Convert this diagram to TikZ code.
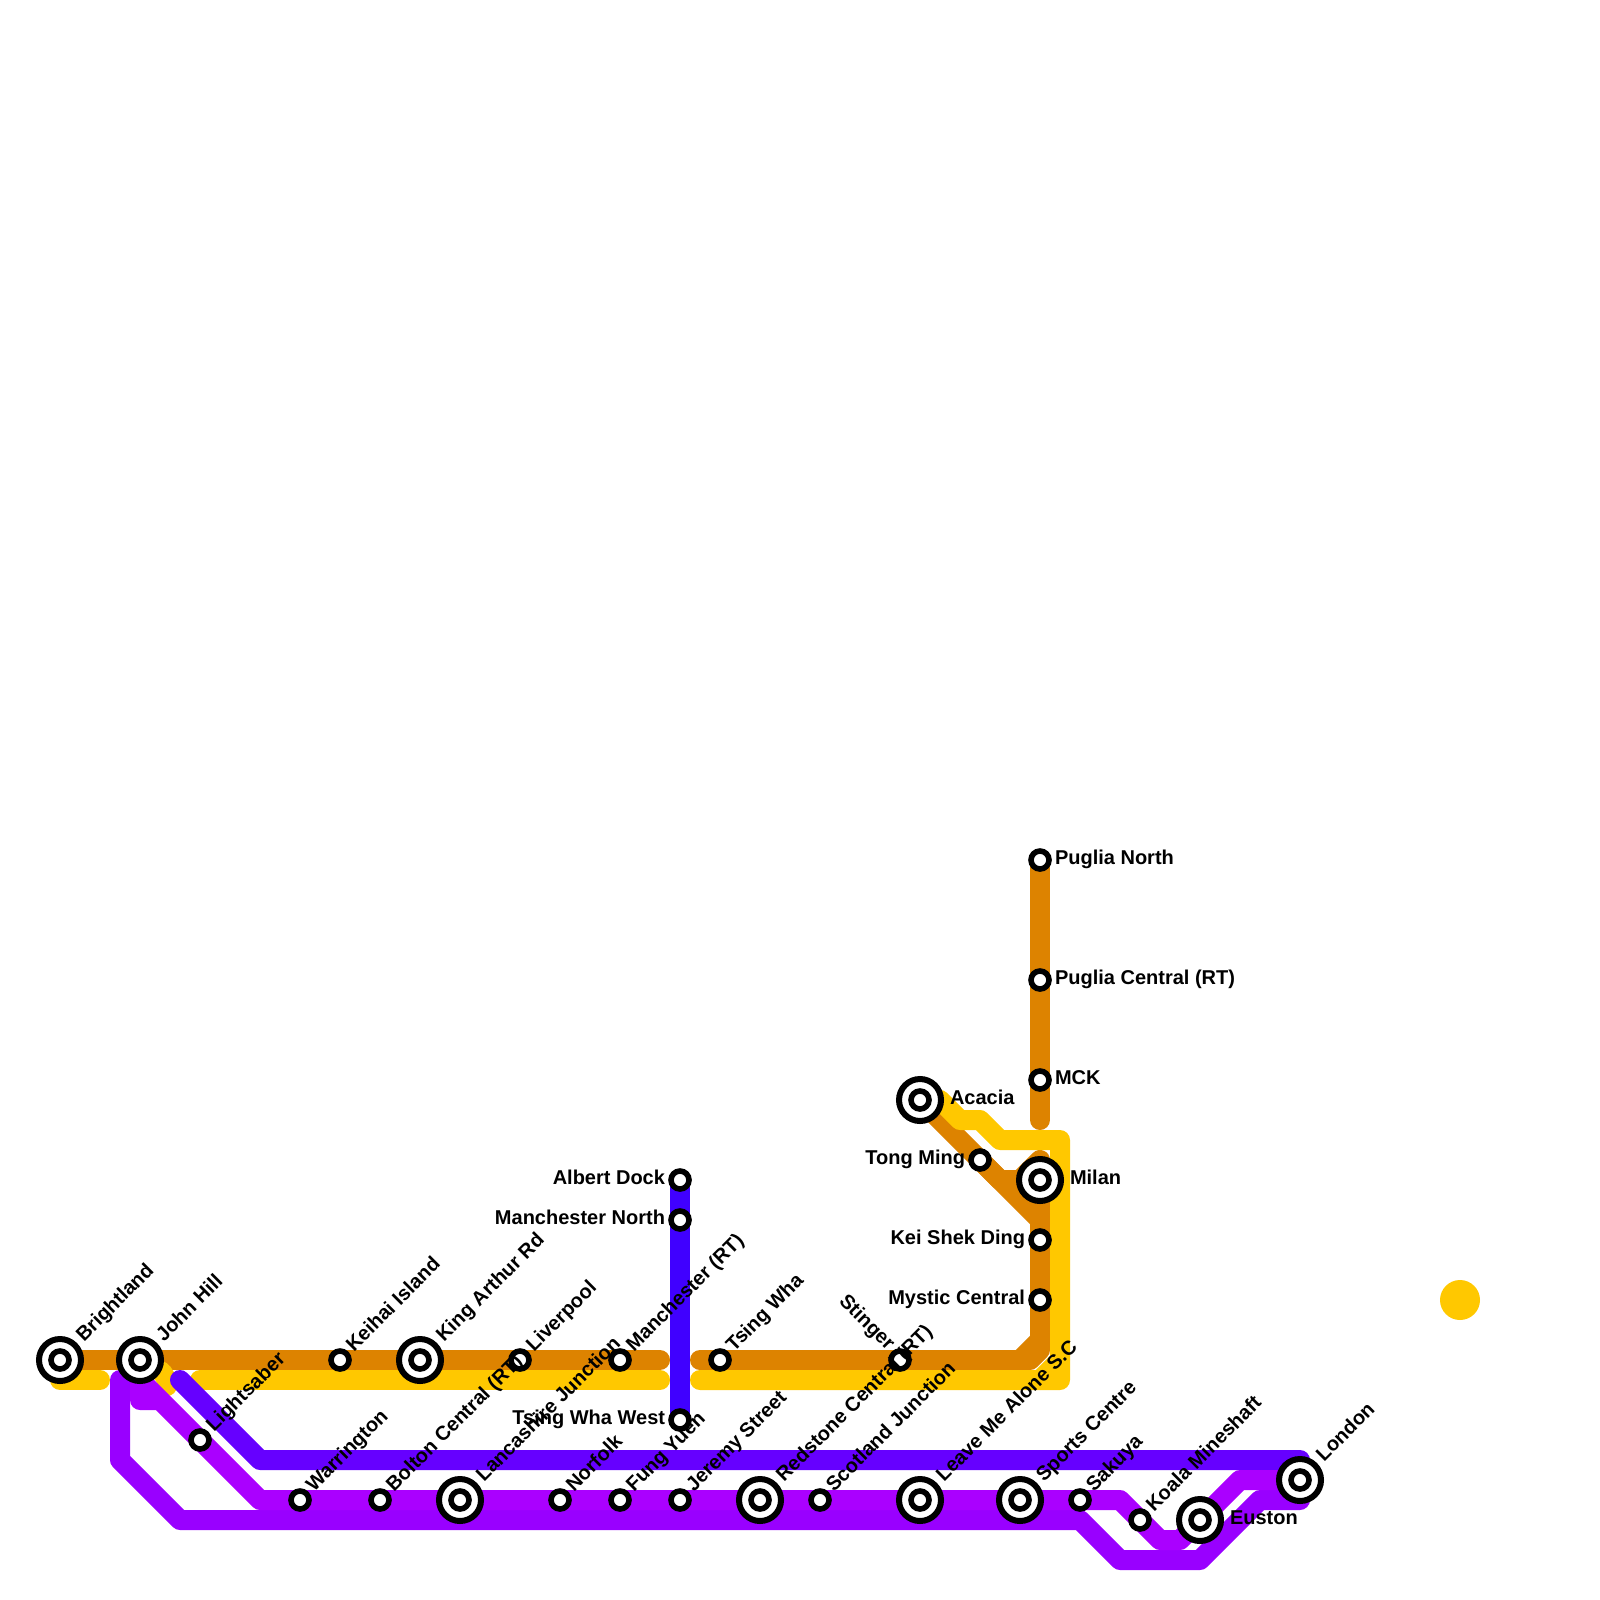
\documentclass[tikz,border=0pt]{standalone}
\usepackage{fontspec}
\setmainfont{Liberation Sans}
\usetikzlibrary{backgrounds}
\definecolor{cOrange}{HTML}{DD8300}
\definecolor{cYellow}{HTML}{FFC800}
\definecolor{cIndigo}{HTML}{6600FF}
\definecolor{cBlue}{HTML}{4000FF}
\definecolor{cMagenta}{HTML}{AA00FF}
\definecolor{cPurple}{HTML}{9900FF}
\tikzset{
  metro/.style={line width=20pt,line cap=round,line join=round},
  smallst/.style={circle,draw=black,fill=white,line width=5.6pt,minimum size=18pt,inner sep=0pt,outer sep=0pt},
  bigst/.style={circle,draw=black,fill=white,line width=6pt,minimum size=42pt,inner sep=0pt,outer sep=0pt},
  lab/.style={font=\fontsize{20}{20}\selectfont\bfseries,inner sep=0pt,outer sep=0pt,text=black},
  ne/.style={lab,anchor=base west,rotate=45},
  nw/.style={lab,anchor=base east,rotate=-45},
  rt/.style={lab,anchor=base west},
  lf/.style={lab,anchor=base east},
}
\newcommand{\BigSt}[3]{\node[bigst] (#1) at (#2,#3) {}; \node[smallst] (#1i) at (#2,#3) {};}
\newcommand{\SmlSt}[3]{\node[smallst] (#1) at (#2,#3) {};}
\newcommand{\LabBig}[2]{\node[ne] (#1lab) at ([shift={(24,-17.5)}]#1.center) {#2};}
\newcommand{\LabSml}[2]{\node[ne] (#1lab) at ([shift={(14,-7.5)}]#1.center) {#2};}
\begin{document}
\begin{tikzpicture}[x=1pt,y=-1pt]
\useasboundingbox (0,0) rectangle (1600,1600);
\BigSt{brightland}{60}{1360}
\BigSt{johnhill}{140}{1360}
\SmlSt{keihai}{340}{1360}
\BigSt{kingarthur}{420}{1360}
\SmlSt{liverpool}{520}{1360}
\SmlSt{manchrt}{620}{1360}
\SmlSt{tsingwha}{720}{1360}
\SmlSt{stinger}{900}{1360}
\SmlSt{lightsaber}{200}{1440}
\SmlSt{warrington}{300}{1500}
\SmlSt{bolton}{380}{1500}
\BigSt{lancashire}{460}{1500}
\SmlSt{norfolk}{560}{1500}
\SmlSt{fungyuen}{620}{1500}
\SmlSt{jeremy}{680}{1500}
\BigSt{redstone}{760}{1500}
\SmlSt{scotland}{820}{1500}
\BigSt{leaveme}{920}{1500}
\BigSt{sports}{1020}{1500}
\SmlSt{sakuya}{1080}{1500}
\SmlSt{koala}{1140}{1520}
\BigSt{euston}{1200}{1520}
\BigSt{london}{1300}{1480}
\SmlSt{albert}{680}{1180}
\SmlSt{manchn}{680}{1220}
\SmlSt{tsingwest}{680}{1420}
\SmlSt{puglian}{1040}{860}
\SmlSt{pugliac}{1040}{980}
\SmlSt{mck}{1040}{1080}
\BigSt{acacia}{920}{1100}
\SmlSt{tongming}{980}{1160}
\BigSt{milan}{1040}{1180}
\SmlSt{keishek}{1040}{1240}
\SmlSt{mystic}{1040}{1300}
\node[circle,fill=cYellow,minimum size=40pt,inner sep=0pt] (dot) at (1460,1300) {};
\coordinate (oa) at (660,1360);
\coordinate (ob) at (700,1360);
\coordinate (oc) at (1040,1120);
\coordinate (ya) at (60,1380);
\coordinate (yb) at (100,1380);
\coordinate (yc) at (200,1380);
\coordinate (yd) at (660,1380);
\coordinate (ye) at (700,1380);
\coordinate (yf) at (167,1386);
\coordinate (ia) at (180,1380);
\coordinate (pa) at (120,1380);
\begin{pgfonlayer}{background}
\draw[metro,cOrange] (brightland.center) -- (oa);
\draw[metro,cOrange] (puglian.center) -- (oc);
\draw[metro,cOrange] (ob) -- (1020,1360) -- (1040,1340) -- (1040,1220) -- (acacia.center);
\draw[metro,cOrange] (1020,1360) -- (1030,1360) -- (1040,1350) -- (1040,1340);
\draw[metro,cOrange] (tongming.center) -- (1000,1180) -- (1020,1180) -- (1040,1160) -- (keishek.center);
\draw[metro,cYellow] (ya) -- (yb);
\draw[metro,cYellow] (johnhill.center) -- (162,1372) -- (167,1380) -- (yf);
\draw[metro,cYellow] (yc) -- (yd);
\draw[metro,cYellow] (ye) -- (1060,1380) -- (1060,1140) -- (1000,1140) -- (980,1120) -- (960,1120) -- (940,1100) -- (acacia.center);
\draw[metro,cYellow] (1040,1380) -- (1060,1360);
\draw[metro,cBlue] (albert.center) -- (tsingwest.center);
\draw[metro,cIndigo] (ia) -- (260,1460) -- (1300,1460) -- (london.center);
\draw[metro,cPurple] (pa) -- (120,1460) -- (180,1520) -- (1080,1520) -- (1120,1560) -- (1200,1560) -- (1260,1500) -- (1300,1500) -- (london.center);
\draw[metro,cMagenta] (johnhill.center) -- (140,1400) -- (160,1400) -- (140,1380) -- (260,1500) -- (1120,1500) -- (1160,1540) -- (1180,1540) -- (1240,1480) -- (london.center);
\end{pgfonlayer}
\LabBig{brightland}{Brightland}
\LabBig{johnhill}{John Hill}
\LabSml{keihai}{Keihai Island}
\LabBig{kingarthur}{King Arthur Rd}
\LabSml{liverpool}{Liverpool}
\LabSml{manchrt}{Manchester (RT)}
\LabSml{tsingwha}{Tsing Wha}
\LabSml{lightsaber}{Lightsaber}
\LabSml{warrington}{Warrington}
\LabSml{bolton}{Bolton Central (RT)}
\LabBig{lancashire}{Lancashire Junction}
\LabSml{norfolk}{Norfolk}
\LabSml{fungyuen}{Fung Yuen}
\LabSml{jeremy}{Jeremy Street}
\LabBig{redstone}{Redstone Central (RT)}
\LabSml{scotland}{Scotland Junction}
\LabBig{leaveme}{Leave Me Alone S.C}
\LabBig{sports}{Sports Centre}
\LabSml{sakuya}{Sakuya}
\LabSml{koala}{Koala Mineshaft}
\LabBig{london}{London}
\node[nw] (stingerlab) at ([shift={(-13,-9)}]stinger.center) {Stinger};
\node[rt] (puglianlab) at ([shift={(15,4.5)}]puglian.center) {Puglia North};
\node[rt] (pugliaclab) at ([shift={(15,4.5)}]pugliac.center) {Puglia Central (RT)};
\node[rt] (mcklab) at ([shift={(15,4.5)}]mck.center) {MCK};
\node[rt] (acacialab) at ([shift={(30,4.5)}]acacia.center) {Acacia};
\node[rt] (milanlab) at ([shift={(30,4.5)}]milan.center) {Milan};
\node[rt] (eustonlab) at ([shift={(30,4.5)}]euston.center) {Euston};
\node[lf] (tonglab) at ([shift={(-15,4.5)}]tongming.center) {Tong Ming};
\node[lf] (keisheklab) at ([shift={(-15,4.5)}]keishek.center) {Kei Shek Ding};
\node[lf] (mysticlab) at ([shift={(-15,4.5)}]mystic.center) {Mystic Central};
\node[lf] (albertlab) at ([shift={(-15,4.5)}]albert.center) {Albert Dock};
\node[lf] (manchnlab) at ([shift={(-15,4.5)}]manchn.center) {Manchester North};
\node[lf] (tsingwestlab) at ([shift={(-15,4.5)}]tsingwest.center) {Tsing Wha West};
\end{tikzpicture}
\end{document}
